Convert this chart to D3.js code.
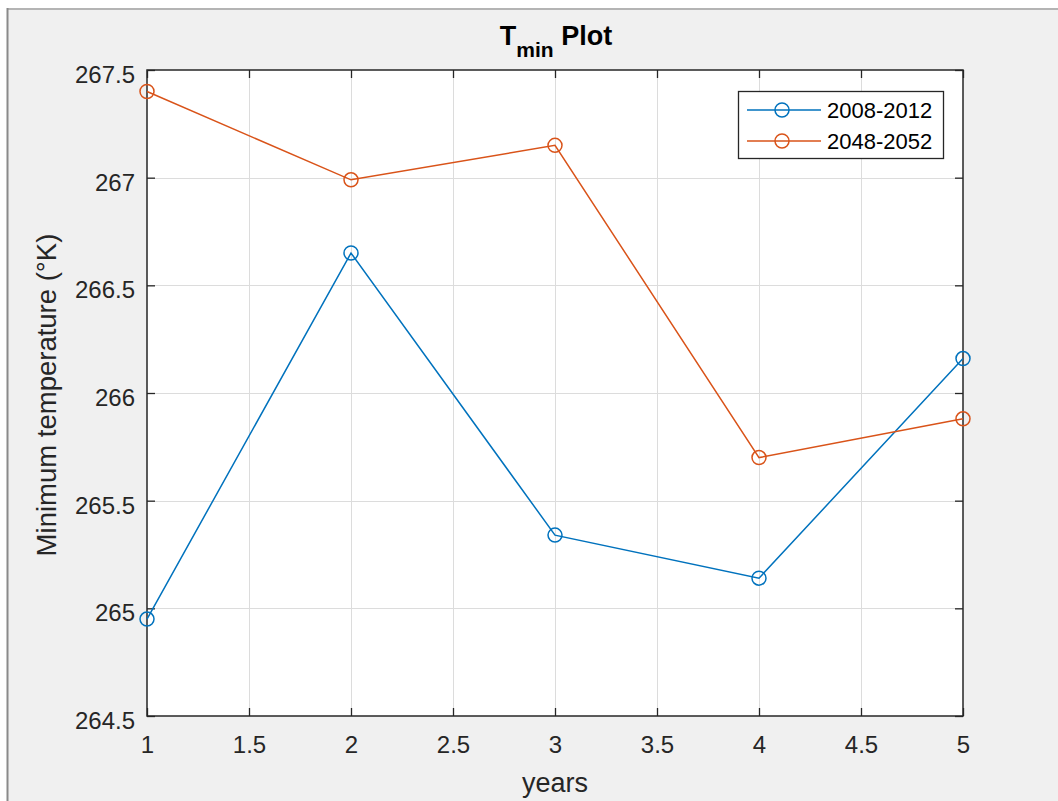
<!DOCTYPE html>
<html lang="en">
<head>
  <meta charset="utf-8">
  <title>Tmin Plot</title>
  <script type="text/javascript" src="https://d3js.org/d3.v7.min.js"></script>
  <style type="text/css">
    body { margin: 0; background: #ffffff; }
    svg { display: block; font-family: "Liberation Sans", Arial, sans-serif; }
  </style>
</head>
<body>
  <script type="text/javascript">

    // data
    const years = [1, 2, 3, 4, 5];
    const tmin2008 = [264.95, 266.65, 265.34, 265.14, 266.16];
    const tmin2048 = [267.40, 266.99, 267.15, 265.70, 265.88];
    const seriesNames = ['2008-2012', '2048-2052'];
    const xTicks = [1, 1.5, 2, 2.5, 3, 3.5, 4, 4.5, 5];
    const yTicks = [264.5, 265, 265.5, 266, 266.5, 267, 267.5];

    const colors = ['#0072BD', '#D95319'];
    const W = 1058, H = 801;
    const plot = { left: 147, right: 963, top: 70, bottom: 716 };

    const svg = d3.select('body').append('svg')
      .attr('width', W)
      .attr('height', H)

    // figure window background + border
    svg.append('rect').attr('x', 8).attr('y', 9).attr('width', W - 8).attr('height', H - 9)
      .attr('fill', '#f0f0f0')
    svg.append('line').attr('x1', 7).attr('x2', W).attr('y1', 9).attr('y2', 9)
      .attr('stroke', '#b4b4b4').attr('stroke-width', 2)
    svg.append('line').attr('x1', 7.5).attr('x2', 7.5).attr('y1', 8).attr('y2', H)
      .attr('stroke', '#8a8a8a').attr('stroke-width', 2)

    const x = d3.scaleLinear().domain([1, 5]).range([plot.left, plot.right]);
    const y = d3.scaleLinear().domain([264.5, 267.5]).range([plot.bottom, plot.top]);

    // axes box
    svg.append('rect')
      .attr('x', plot.left).attr('y', plot.top)
      .attr('width', plot.right - plot.left).attr('height', plot.bottom - plot.top)
      .attr('fill', '#ffffff')

    //grid lines
    const grid = svg.append('g').attr('stroke', '#dcdcdc').attr('stroke-width', 1)
    grid.selectAll('.gx').data(xTicks.slice(1, -1)).enter().append('line')
      .attr('x1', d => Math.round(x(d)) + 0.5).attr('x2', d => Math.round(x(d)) + 0.5)
      .attr('y1', plot.top).attr('y2', plot.bottom)
    grid.selectAll('.gy').data(yTicks.slice(1, -1)).enter().append('line')
      .attr('y1', d => Math.round(y(d)) + 0.5).attr('y2', d => Math.round(y(d)) + 0.5)
      .attr('x1', plot.left).attr('x2', plot.right)

    // axes with inward ticks (all four sides like matlab box on)
    const tickLen = 8;
    const axisColor = '#262626';
    function styleAxis(g) {
      g.select('.domain').remove()
      g.selectAll('.tick line').attr('stroke', axisColor).attr('stroke-width', 1.3)
      g.selectAll('.tick text').attr('fill', axisColor).style('font-size', '24px')
        .style('font-family', '"Liberation Sans", Arial, sans-serif')
    }

    svg.append('g').attr('transform', `translate(0,${plot.bottom})`)
      .call(d3.axisBottom(x).tickValues(xTicks).tickSize(-tickLen).tickPadding(20).tickFormat(d3.format('')))
      .call(styleAxis)
    svg.append('g').attr('transform', `translate(0,${plot.top})`)
      .call(d3.axisTop(x).tickValues(xTicks).tickSize(-tickLen).tickFormat(''))
      .call(styleAxis)
    svg.append('g').attr('transform', `translate(${plot.left},0)`)
      .call(d3.axisLeft(y).tickValues(yTicks).tickSize(-tickLen).tickPadding(12).tickFormat(d3.format('')))
      .call(styleAxis)
      .call(g => g.selectAll('.tick text').attr('dy', '0.52em'))
    svg.append('g').attr('transform', `translate(${plot.right},0)`)
      .call(d3.axisRight(y).tickValues(yTicks).tickSize(-tickLen).tickFormat(''))
      .call(styleAxis)

    svg.append('rect')
      .attr('x', plot.left).attr('y', plot.top)
      .attr('width', plot.right - plot.left).attr('height', plot.bottom - plot.top)
      .attr('fill', 'none').attr('stroke', axisColor).attr('stroke-width', 1.5)

    // series
    const allSeries = [tmin2008, tmin2048];
    const line = d3.line().x((d, i) => x(years[i])).y(d => y(d));
    allSeries.forEach((vals, k) => {
      svg.append('path').datum(vals)
        .attr('d', line)
        .attr('fill', 'none')
        .attr('stroke', colors[k])
        .attr('stroke-width', 1.5)
      svg.selectAll('.m' + k).data(vals).enter().append('circle')
        .attr('cx', (d, i) => x(years[i]))
        .attr('cy', d => y(d))
        .attr('r', 7)
        .attr('fill', 'none')
        .attr('stroke', colors[k])
        .attr('stroke-width', 1.5)
    })

    // legend
    const leg = svg.append('g')
    leg.append('rect').attr('x', 738.5).attr('y', 91.5).attr('width', 205).attr('height', 67)
      .attr('fill', '#ffffff').attr('stroke', axisColor).attr('stroke-width', 1.3)
    seriesNames.forEach((name, k) => {
      const ly = 110 + k * 31;
      leg.append('line').attr('x1', 747).attr('x2', 821).attr('y1', ly).attr('y2', ly)
        .attr('stroke', colors[k]).attr('stroke-width', 1.5)
      leg.append('circle').attr('cx', 782).attr('cy', ly).attr('r', 7)
        .attr('fill', 'none').attr('stroke', colors[k]).attr('stroke-width', 1.5)
      leg.append('text').attr('x', 827).attr('y', ly).attr('dy', '0.36em')
        .style('font-size', '22px').attr('fill', '#000000').text(name)
    })

    // title and labels
    const title = svg.append('text')
      .attr('x', 556).attr('y', 45)
      .attr('text-anchor', 'middle')
      .style('font-size', '27px').style('font-weight', 'bold').attr('fill', '#000000')
    title.append('tspan').text('T')
    title.append('tspan').attr('dy', 12).style('font-size', '21px').text('min')
    title.append('tspan').attr('dy', -12).text(' Plot')

    svg.append('text')
      .attr('x', 555).attr('y', 792)
      .attr('text-anchor', 'middle')
      .style('font-size', '27px').attr('fill', axisColor)
      .text('years')

    svg.append('text')
      .attr('transform', 'translate(56,395) rotate(-90)')
      .attr('text-anchor', 'middle')
      .style('font-size', '27.5px').attr('fill', axisColor)
      .text('Minimum temperature (°K)')

  </script>
</body>
</html>
